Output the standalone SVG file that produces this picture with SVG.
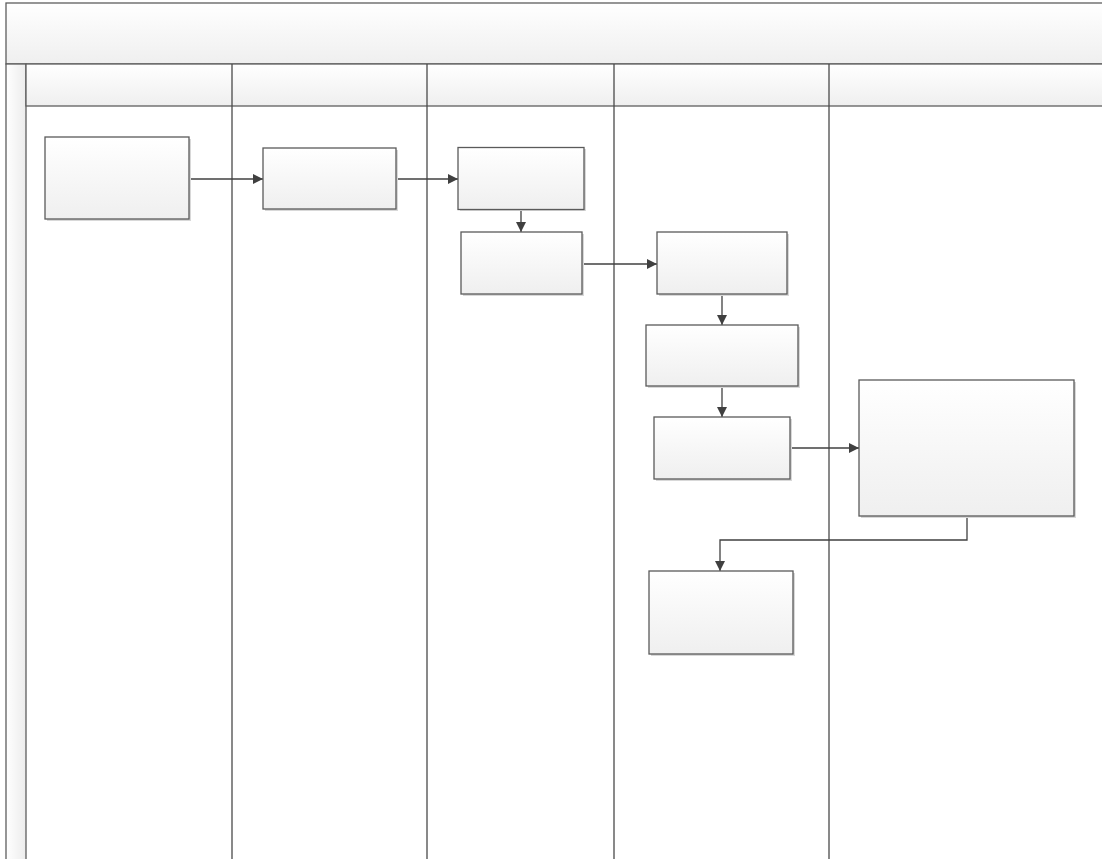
<svg xmlns="http://www.w3.org/2000/svg" width="1102" height="859" viewBox="0 0 1102 859">
<style>
.hdr{fill:url(#gv);stroke:#5e5e5e;stroke-width:1.3}
.lane{stroke:#4a4a4a;stroke-width:1.3;fill:none}
.box{fill:url(#gv);stroke:#5a5a5a;stroke-width:1.3}
.sh{fill:#d8d8d8}
.con{stroke:#404040;stroke-width:1.3;fill:none;marker-end:url(#ah)}
</style>
<defs>
<linearGradient id="gv" x1="0" y1="0" x2="0" y2="1"><stop offset="0" stop-color="#ffffff"/><stop offset="1" stop-color="#efefef"/></linearGradient>
<linearGradient id="gh" x1="0" y1="0" x2="1" y2="0"><stop offset="0" stop-color="#ffffff"/><stop offset="1" stop-color="#ececec"/></linearGradient>
<marker id="ah" viewBox="0 0 10 10" refX="10" refY="5" markerWidth="10" markerHeight="10" markerUnits="userSpaceOnUse" orient="auto"><path d="M0,0 L10,5 L0,10 z" fill="#404040"/></marker>
</defs>
<rect width="1102" height="859" fill="#ffffff"/>
<g id="pool">
<rect class="hdr" x="6" y="3" width="1110" height="61"/>
<rect x="6" y="64" width="20" height="800" fill="url(#gh)" stroke="#5e5e5e" stroke-width="1.3"/>
<rect class="hdr" x="26" y="64" width="1090" height="42"/>
<line class="lane" x1="232" y1="64" x2="232" y2="859"/>
<line class="lane" x1="427" y1="64" x2="427" y2="859"/>
<line class="lane" x1="614" y1="64" x2="614" y2="859"/>
<line class="lane" x1="829" y1="64" x2="829" y2="859"/>
</g>
<g id="connectors">
<path class="con" d="M189,179 H263"/>
<path class="con" d="M396,179 H458"/>
<path class="con" d="M521,210 V232"/>
<path class="con" d="M582,264 H657"/>
<path class="con" d="M722,294 V325"/>
<path class="con" d="M722,386 V417"/>
<path class="con" d="M790,448 H859"/>
<path class="con" d="M967,516 V540 H720 V571"/>
</g>
<g id="n1"><rect class="sh" x="47" y="139" width="144" height="82"/><rect class="box" x="45" y="137" width="144" height="82"/></g>
<g id="n2"><rect class="sh" x="265" y="150" width="133" height="61"/><rect class="box" x="263" y="148" width="133" height="61"/></g>
<g id="n3"><rect class="sh" x="460" y="149" width="126" height="62"/><rect class="box" x="458" y="147.5" width="126" height="62"/></g>
<g id="n4"><rect class="sh" x="463" y="234" width="121" height="62"/><rect class="box" x="461" y="232" width="121" height="62"/></g>
<g id="n5"><rect class="sh" x="659" y="234" width="130" height="62"/><rect class="box" x="657" y="232" width="130" height="62"/></g>
<g id="n6"><rect class="sh" x="648" y="327" width="152" height="61"/><rect class="box" x="646" y="325" width="152" height="61"/></g>
<g id="n7"><rect class="sh" x="656" y="419" width="136" height="62"/><rect class="box" x="654" y="417" width="136" height="62"/></g>
<g id="n8"><rect class="sh" x="861" y="382" width="215" height="136"/><rect class="box" x="859" y="380" width="215" height="136"/></g>
<g id="n9"><rect class="sh" x="651" y="573" width="144" height="83"/><rect class="box" x="649" y="571" width="144" height="83"/></g>
</svg>
